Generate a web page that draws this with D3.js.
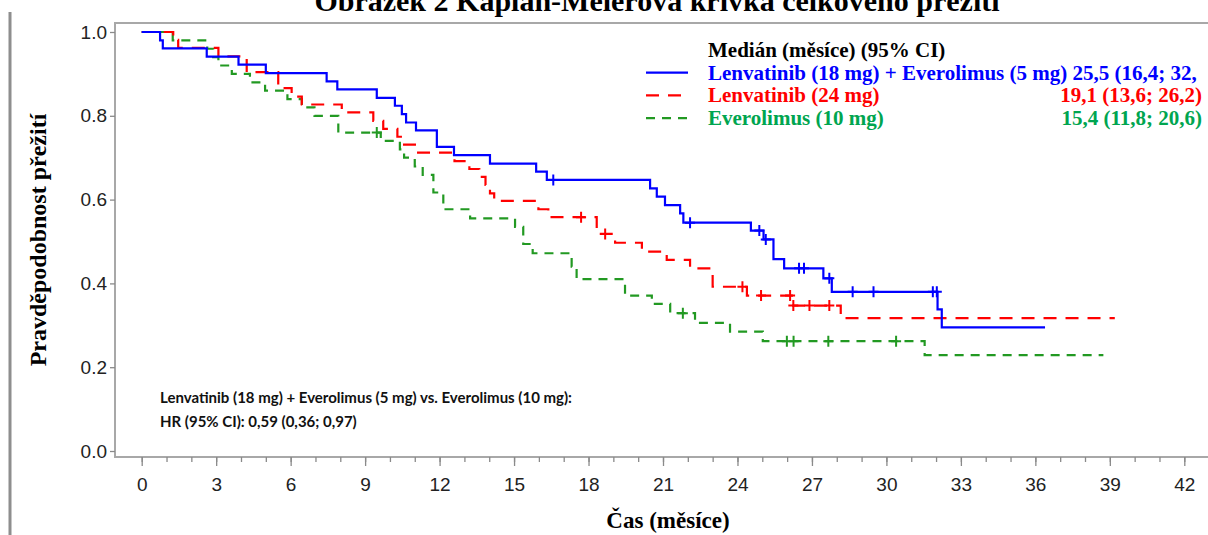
<!DOCTYPE html>
<html>
<head>
<meta charset="utf-8">
<script src="https://cdn.jsdelivr.net/npm/d3@7"></script>
<style>
  body { margin: 0; background: #fff; }
  svg { display: block; }
</style>
</head>
<body>
<script>
// survival curves: time in months, survival probability
const lenEveTime = [0, 0.74, 0.85, 2.62, 3.9, 5.0, 7.45, 7.88, 9.47, 10.2, 10.48, 10.65, 11.05, 11.89, 12.58, 14.03, 15.89, 16.32, 20.48, 20.75, 21.08, 21.69, 21.82, 24.54, 25.05, 25.45, 25.88, 27.46, 27.8, 32.06, 32.23, 36.39];
const lenEveSurv = [1, 0.980, 0.961, 0.941, 0.922, 0.902, 0.882, 0.863, 0.843, 0.824, 0.804, 0.784, 0.765, 0.726, 0.706, 0.686, 0.667, 0.647, 0.627, 0.607, 0.587, 0.567, 0.545, 0.526, 0.505, 0.458, 0.436, 0.412, 0.380, 0.338, 0.295, 0.295];
const lenEveCensTime = [16.58, 22.09, 24.88, 25.14, 26.48, 26.68, 27.7, 28.64, 29.48, 31.87, 32.03];
const lenEveCensSurv = [0.647, 0.545, 0.526, 0.505, 0.436, 0.436, 0.412, 0.380, 0.380, 0.380, 0.380];

const lenTime = [0, 1.27, 1.47, 3.09, 4.23, 5.5, 6.04, 6.45, 8.06, 9.33, 9.73, 10.3, 10.52, 11.05, 12.6, 13.2, 13.6, 13.85, 14.03, 14.2, 15.98, 16.38, 18.33, 19.07, 20.15, 21.15, 22.09, 23.0, 24.38, 26.19, 28.16, 39.2];
const lenSurv = [1, 0.981, 0.962, 0.942, 0.904, 0.866, 0.846, 0.827, 0.808, 0.788, 0.769, 0.750, 0.731, 0.712, 0.692, 0.673, 0.654, 0.635, 0.615, 0.597, 0.577, 0.558, 0.518, 0.497, 0.476, 0.456, 0.436, 0.392, 0.371, 0.347, 0.317, 0.317];
const lenCensTime = [17.7, 18.67, 24.2, 24.95, 26.12, 26.25, 26.9, 27.7];
const lenCensSurv = [0.558, 0.518, 0.392, 0.371, 0.371, 0.347, 0.347, 0.347];

const eveTime = [0, 1.25, 2.64, 2.88, 3.09, 3.63, 4.36, 4.97, 5.87, 6.45, 6.96, 7.92, 9.63, 10.4, 10.57, 11.0, 11.32, 11.75, 12.15, 13.23, 15.04, 15.37, 15.75, 17.32, 17.52, 19.47, 20.55, 21.29, 22.29, 23.7, 25.02, 31.54, 38.74];
const eveSurv = [1, 0.98, 0.96, 0.94, 0.92, 0.90, 0.88, 0.86, 0.84, 0.82, 0.80, 0.76, 0.74, 0.72, 0.70, 0.679, 0.659, 0.617, 0.577, 0.555, 0.535, 0.494, 0.472, 0.44, 0.41, 0.371, 0.351, 0.329, 0.306, 0.285, 0.262, 0.229, 0.229];
const eveCensTime = [9.47, 21.8, 25.99, 26.26, 27.66, 30.39];
const eveCensSurv = [0.76, 0.329, 0.262, 0.262, 0.262, 0.262];

const xTicks = [0, 3, 6, 9, 12, 15, 18, 21, 24, 27, 30, 33, 36, 39, 42];
const xMinorTicks = d3.range(0, 44);
const yTicks = [0, 0.2, 0.4, 0.6, 0.8, 1.0];

const legendNames = ["Lenvatinib (18 mg) + Everolimus (5 mg)", "Lenvatinib (24 mg)", "Everolimus (10 mg)"];
const legendMedians = ["25,5 (16,4; 32,", "19,1 (13,6; 26,2)", "15,4 (11,8; 20,6)"];

const width = 1208, height = 535;
const plot = {left: 115, top: 23, bottom: 457};
const serif = "'Liberation Serif', 'Times New Roman', serif";
const sans = "'Liberation Sans', Arial, sans-serif";

const svg = d3.select("body")
  .append("svg")
  .attr("width", width)
  .attr("height", height);

// page border on the left
svg.append("line")
  .attr("x1", 10).attr("x2", 10)
  .attr("y1", 12).attr("y2", height)
  .attr("stroke", "#8e8e8e")
  .attr("stroke-width", 3);

// title, cut at the top like the source
svg.append("text")
  .attr("x", 657)
  .attr("y", 11)
  .attr("text-anchor", "middle")
  .style("font-family", serif)
  .style("font-weight", "bold")
  .style("font-size", "30px")
  .text("Obrázek 2 Kaplan-Meierova křivka celkového přežití");

const x = d3.scaleLinear().domain([0, 42]).range([141.7, 1184.3]);
const y = d3.scaleLinear().domain([0, 1]).range([451, 32]);

// frame
svg.append("rect")
  .attr("x", plot.left)
  .attr("y", plot.top)
  .attr("width", width - plot.left + 20)
  .attr("height", plot.bottom - plot.top)
  .attr("fill", "none")
  .attr("stroke", "#a8a8a8")
  .attr("stroke-width", 2);

// y axis
const gy = svg.append("g")
  .attr("transform", `translate(${plot.left},0)`)
  .call(d3.axisLeft(y).tickValues(yTicks).tickFormat(d3.format(".1f")).tickSize(5).tickPadding(3));
gy.select(".domain").remove();

// x axis, minor then major ticks
const gxMinor = svg.append("g")
  .attr("transform", `translate(0,${plot.bottom})`)
  .call(d3.axisBottom(x).tickValues(xMinorTicks).tickFormat("").tickSize(5));
gxMinor.select(".domain").remove();

const gx = svg.append("g")
  .attr("transform", `translate(0,${plot.bottom})`)
  .call(d3.axisBottom(x).tickValues(xTicks).tickSize(9).tickPadding(12));
gx.select(".domain").remove();

svg.selectAll(".tick line").attr("stroke", "#8a8a8a").attr("stroke-width", 1.3);
svg.selectAll(".tick text")
  .style("font-family", sans)
  .style("font-size", "19px")
  .attr("fill", "#222");

// axis titles
svg.append("text")
  .attr("transform", "translate(46,240) rotate(-90)")
  .attr("text-anchor", "middle")
  .style("font-family", serif)
  .style("font-weight", "bold")
  .style("font-size", "24px")
  .text("Pravděpodobnost přežití");

svg.append("text")
  .attr("x", 668)
  .attr("y", 528)
  .attr("text-anchor", "middle")
  .style("font-family", serif)
  .style("font-weight", "bold")
  .style("font-size", "23px")
  .text("Čas (měsíce)");

// curves
const series = [
  {time: lenEveTime, surv: lenEveSurv, censT: lenEveCensTime, censS: lenEveCensSurv, color: "#0000ff", text: "#0000ff", dash: null},
  {time: lenTime, surv: lenSurv, censT: lenCensTime, censS: lenCensSurv, color: "#ff0000", text: "#ff0000", dash: "13,9"},
  {time: eveTime, surv: eveSurv, censT: eveCensTime, censS: eveCensSurv, color: "#229922", text: "#00a550", dash: "9,7"}
];

const line = d3.line()
  .x(d => x(d[0]))
  .y(d => y(d[1]))
  .curve(d3.curveStepAfter);

// draw green first, blue on top
series.slice().reverse().forEach(s => {
  svg.append("path")
    .datum(d3.zip(s.time, s.surv))
    .attr("d", line)
    .attr("fill", "none")
    .attr("stroke", s.color)
    .attr("stroke-width", 2.2)
    .attr("stroke-dasharray", s.dash);

  svg.selectAll(null)
    .data(d3.zip(s.censT, s.censS))
    .join("path")
      .attr("transform", d => `translate(${x(d[0])},${y(d[1])})`)
      .attr("d", "M-5,0H5M0,-5.5V5.5")
      .attr("stroke", s.color)
      .attr("stroke-width", 2)
      .attr("fill", "none");
});

// legend
const legendX = 708, legendTop = 57, rowGap = 22.7;
svg.append("text")
  .attr("x", legendX)
  .attr("y", legendTop)
  .style("font-family", serif)
  .style("font-weight", "bold")
  .style("font-size", "21px")
  .text("Medián (měsíce) (95% CI)");

series.forEach((s, i) => {
  const yy = legendTop + rowGap * (i + 1);
  svg.append("line")
    .attr("x1", 646).attr("x2", 688)
    .attr("y1", yy - 7).attr("y2", yy - 7)
    .attr("stroke", s.color)
    .attr("stroke-width", 2.2)
    .attr("stroke-dasharray", s.dash);

  if (i == 0) {
    svg.append("text")
      .attr("x", legendX)
      .attr("y", yy)
      .attr("fill", s.text)
      .style("font-family", serif)
      .style("font-weight", "bold")
      .style("font-size", "21px")
      .text(legendNames[i] + " " + legendMedians[i]);
  } else {
    svg.append("text")
      .attr("x", legendX)
      .attr("y", yy)
      .attr("fill", s.text)
      .style("font-family", serif)
      .style("font-weight", "bold")
      .style("font-size", "21px")
      .text(legendNames[i]);
    svg.append("text")
      .attr("x", 1202)
      .attr("y", yy)
      .attr("text-anchor", "end")
      .attr("fill", s.text)
      .style("font-family", serif)
      .style("font-weight", "bold")
      .style("font-size", "21px")
      .text(legendMedians[i]);
  }
});

// hazard ratio note
const hrLines = ["Lenvatinib (18 mg) + Everolimus (5 mg) vs. Everolimus (10 mg):", "HR (95% CI): 0,59 (0,36; 0,97)"];
svg.selectAll(null)
  .data(hrLines)
  .join("text")
    .attr("x", 160)
    .attr("y", (d, i) => 403 + i * 23.5)
    .style("font-family", "Lato, 'Open Sans', sans-serif")
    .style("font-weight", "bold")
    .style("font-size", "15px")
    .attr("fill", "#111")
    .text(d => d);
</script>
</body>
</html>
